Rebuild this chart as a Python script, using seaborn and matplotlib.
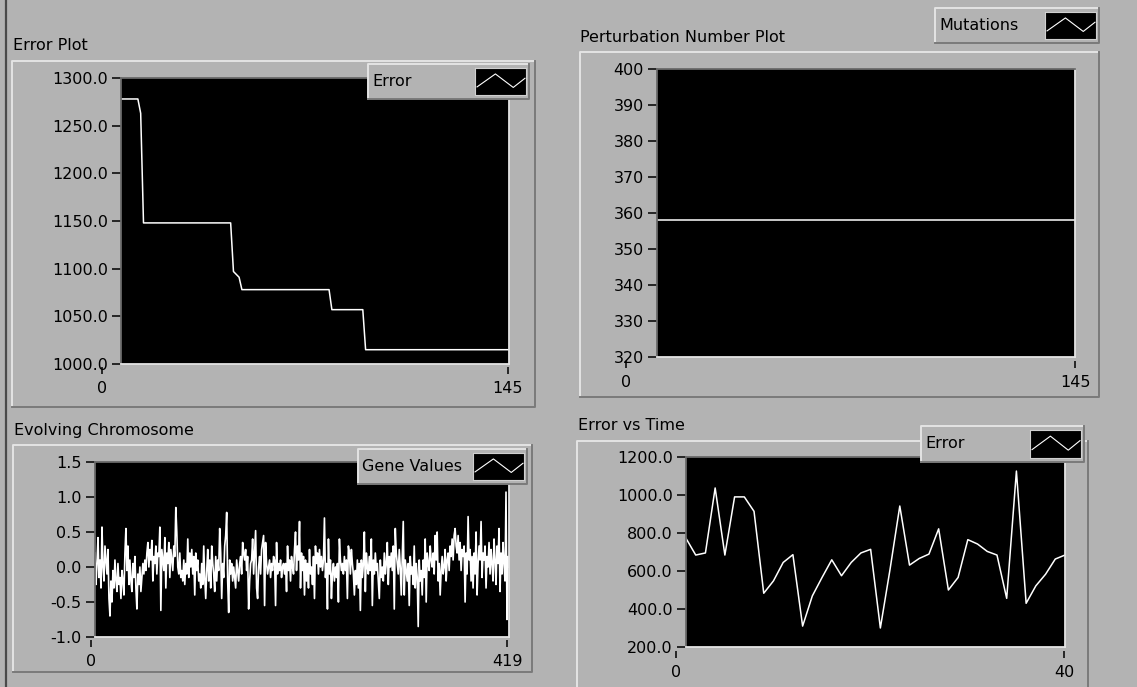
import matplotlib.pyplot as plt
import matplotlib.transforms as mtransforms
from matplotlib.patches import Rectangle
from matplotlib.lines import Line2D
import numpy as np
import pandas as pd
import seaborn as sns

# ---- data ----
# Error Plot (step-wise best error per generation, corner points)
error_gen = [7, 13, 14, 15, 46, 47, 48, 49, 50, 81, 82, 93, 94, 145]
error_best = [1278, 1278, 1263, 1148, 1148, 1097, 1094, 1091, 1078, 1078, 1057, 1057, 1015, 1015]

# Perturbation Number Plot
mutation_gen = [10, 145]
mutation_count = [358, 358]

# Error vs Time
time_step = list(range(1, 41))
error_time = [772, 684, 695, 1037, 684, 990, 990, 914, 483, 548,
              645, 686, 310, 469, 566, 659, 575, 645, 695, 714,
              300, 610, 942, 631, 666, 689, 822, 500, 566, 765,
              742, 703, 684, 456, 1126, 430, 522, 583, 663, 684]

# Evolving Chromosome (gene index 4..419)
gene_index = list(range(4, 420))
gene_values = [
    0.20, -0.25, 0.05, 0.42, -0.15, 0.10, -0.30, 0.57, 0.00, -0.20,
    0.30, 0.10, -0.10, 0.25, -0.45, -0.70, -0.20, -0.50, -0.05, -0.30,
    0.10, -0.20, -0.35, 0.05, -0.25, -0.15, -0.45, -0.05, -0.20, -0.40,
    0.20, 0.55, -0.05, 0.30, -0.25, 0.10, -0.20, -0.35, 0.05, -0.15,
    0.15, -0.30, -0.60, -0.10, -0.25, 0.00, -0.35, -0.15, 0.05, -0.10,
    0.10, -0.05, 0.20, 0.35, 0.00, 0.25, 0.10, 0.38, -0.20, 0.15,
    0.05, 0.30, -0.10, 0.20, 0.15, 0.57, -0.62, 0.25, 0.10, -0.05,
    0.42, -0.30, 0.20, 0.05, 0.35, -0.15, 0.25, 0.10, -0.05, 0.30,
    0.15, 0.85, 0.50, 0.00, -0.10, 0.20, -0.15, -0.05, -0.20, 0.10,
    -0.25, 0.05, -0.10, 0.40, -0.15, 0.20, 0.00, 0.25, -0.10, 0.15,
    -0.40, 0.20, -0.05, 0.10, -0.20, -0.10, -0.30, 0.05, -0.25, 0.30,
    -0.15, -0.45, -0.05, 0.25, -0.20, 0.10, -0.30, 0.30, 0.05, -0.10,
    -0.35, 0.15, -0.20, 0.10, -0.05, 0.55, 0.20, -0.45, 0.05, -0.15,
    0.30, 0.45, 0.78, -0.20, -0.65, 0.10, -0.10, 0.05, -0.20, 0.00,
    -0.15, -0.30, 0.10, -0.05, -0.20, 0.05, 0.15, -0.10, 0.35, 0.20,
    0.10, 0.25, -0.05, 0.15, -0.60, -0.20, 0.05, 0.10, 0.40, -0.10,
    0.20, 0.52, -0.30, -0.45, 0.00, 0.15, -0.10, 0.25, 0.35, 0.45,
    -0.55, 0.35, 0.05, -0.10, 0.00, 0.10, -0.15, 0.05, -0.05, 0.15,
    0.10, -0.55, 0.35, -0.10, 0.05, -0.05, 0.10, -0.15, 0.00, 0.05,
    -0.10, 0.05, -0.35, 0.30, -0.05, 0.10, -0.20, 0.15, 0.00, -0.10,
    0.25, 0.50, -0.05, 0.30, 0.10, 0.65, -0.30, 0.20, -0.05, 0.15,
    -0.40, 0.10, -0.20, 0.05, -0.30, 0.25, -0.10, 0.00, -0.25, 0.15,
    -0.45, 0.30, 0.05, 0.20, -0.10, 0.25, 0.00, 0.15, -0.05, 0.10,
    0.70, -0.15, 0.05, -0.60, 0.40, -0.10, 0.10, -0.45, -0.10, 0.05,
    -0.20, 0.00, -0.15, 0.05, -0.50, 0.40, 0.10, -0.05, 0.05, -0.10,
    0.15, -0.05, 0.10, -0.45, 0.30, 0.20, -0.10, 0.25, 0.05, -0.10,
    -0.40, -0.05, -0.25, 0.10, -0.30, 0.05, -0.62, 0.10, -0.15, 0.05,
    0.50, -0.35, 0.20, 0.00, -0.10, 0.15, -0.05, 0.40, -0.55, 0.10,
    -0.10, 0.20, -0.05, 0.05, -0.20, -0.45, 0.10, -0.15, 0.00, -0.20,
    0.20, -0.10, 0.05, 0.35, -0.25, 0.15, 0.00, 0.20, -0.05, 0.30,
    -0.60, 0.55, 0.20, 0.05, -0.10, 0.25, 0.00, -0.40, 0.15, 0.65,
    -0.40, 0.10, -0.05, -0.20, 0.05, -0.55, 0.15, -0.10, 0.00, -0.25,
    0.30, -0.30, 0.05, -0.15, -0.85, 0.10, -0.20, -0.05, -0.40, 0.10,
    -0.15, 0.40, -0.50, 0.20, 0.05, -0.05, 0.30, 0.10, 0.00, 0.20,
    -0.10, 0.45, 0.10, 0.50, -0.20, 0.05, -0.40, -0.05, 0.15, -0.10,
    0.00, 0.25, -0.20, 0.10, 0.20, -0.05, 0.30, 0.15, 0.40, 0.10,
    0.45, 0.55, 0.30, 0.20, 0.45, 0.10, 0.35, -0.05, 0.25, 0.15,
    0.30, -0.50, 0.20, -0.10, 0.72, 0.10, 0.25, -0.20, 0.15, -0.30,
    0.20, -0.10, 0.50, -0.40, 0.05, 0.30, 0.10, 0.65, -0.15, 0.20,
    0.10, 0.30, -0.30, 0.15, 0.00, 0.35, -0.10, 0.25, 0.05, -0.20,
    0.40, 0.10, -0.25, 0.30, 0.05, 0.55, -0.35, 0.20, -0.10, 0.35,
    0.05, -0.20, 1.07, -0.75, 0.15, 0.00,
]

# ---- look ----
W, H = 1137, 687
PANEL = '#b3b3b3'
LIGHT = '#e4e4e4'
DARK = '#7a7a7a'
FONT = 11.5
ICON_X = [0.04, 0.40, 0.75, 0.98]
ICON_Y = [0.30, 0.78, 0.28, 0.62]

plt.rcParams['font.family'] = ['DejaVu Sans']

fig = plt.figure(figsize=(W / 100, H / 100), dpi=100, facecolor=PANEL)
PX = mtransforms.Affine2D().scale(1 / W, -1 / H).translate(0, 1) + fig.transFigure


def bevel(x0, y0, x1, y1, hi=LIGHT, lo=DARK, face=None, lw=1.4, z=1):
    if face is not None:
        fig.add_artist(Rectangle((x0, y0), x1 - x0, y1 - y0, transform=PX,
                                 facecolor=face, edgecolor='none', zorder=z))
    fig.add_artist(Line2D([x0, x0, x1], [y1, y0, y0], transform=PX, color=hi, lw=lw,
                          zorder=z + 0.1))
    fig.add_artist(Line2D([x0, x1, x1], [y1, y1, y0], transform=PX, color=lo, lw=lw,
                          zorder=z + 0.1))


def px_rect(x0, y0, x1, y1):
    return [x0 / W, 1 - y1 / H, (x1 - x0) / W, (y1 - y0) / H]


def panel(title, title_xy, frame, plot, scale, legend_box, label,
          xlim, ylim, yticks, yfmt, xmax_label):
    bevel(*frame)
    fig.text(title_xy[0] / W, 1 - title_xy[1] / H, title, ha='left', va='center',
             fontsize=FONT)

    ax = fig.add_axes(px_rect(*plot))
    ax.set_zorder(2)
    ax.set_facecolor('black')
    ax.set_xlim(*xlim)
    ax.set_ylim(*ylim)
    ax.set_xticks([])
    ax.set_yticks(yticks)
    ax.set_yticklabels([yfmt.format(v) for v in yticks])
    ax.tick_params(axis='y', direction='out', length=6.5, width=1.1, pad=3,
                   labelsize=FONT, color='black')
    ax.spines['top'].set_color('#6a6a6a')
    ax.spines['left'].set_color('#6a6a6a')
    ax.spines['bottom'].set_color(LIGHT)
    ax.spines['right'].set_color(LIGHT)
    for s in ax.spines.values():
        s.set_linewidth(1.3)

    # x scale of the graph (drawn slightly offset like the original panel)
    sx = fig.add_axes([scale[0] / W, 1 - scale[2] / H, (scale[1] - scale[0]) / W, 1e-4])
    sx.set_xlim(0, xmax_label)
    sx.set_xticks([0, xmax_label])
    sx.set_xticklabels(['0', str(xmax_label)])
    sx.tick_params(axis='x', direction='out', length=5, width=1.1, pad=5,
                   labelsize=FONT, color='black')
    sx.set_yticks([])
    sx.patch.set_visible(False)
    for s in sx.spines.values():
        s.set_visible(False)

    # plot legend widget, sitting above the plot area
    lx0, ly0, lx1, ly1 = legend_box
    bevel(lx0, ly0, lx1, ly1, face=PANEL, z=5)
    fig.text((lx0 + 4) / W, 1 - ((ly0 + ly1) / 2) / H, label, ha='left', va='center',
             fontsize=FONT, zorder=6)
    icon = fig.add_axes(px_rect(lx1 - 54, ly0 + 4, lx1 - 3, ly1 - 4))
    icon.set_zorder(7)
    icon.set_facecolor('black')
    icon.plot(ICON_X, ICON_Y, color='white', lw=0.8)
    icon.set_xlim(0, 1)
    icon.set_ylim(0, 1)
    icon.set_xticks([])
    icon.set_yticks([])
    for s in icon.spines.values():
        s.set_color('#d0d0d0')
    return ax


# window edge
fig.add_artist(Line2D([6, 6], [0, H], transform=PX, color='#4a4a4a', lw=1.6))

ax1 = panel('Error Plot', (13, 45), (12, 61, 535, 407), (121, 78, 509, 364),
            (102, 508, 367), (368, 64, 529, 99), 'Error',
            (7, 145), (1000, 1300), [1000, 1050, 1100, 1150, 1200, 1250, 1300],
            '{:.1f}', 145)
sns.lineplot(x=error_gen, y=error_best, ax=ax1, color='white', linewidth=1.1,
             estimator=None)

ax2 = panel('Perturbation Number Plot', (580, 37), (580, 52, 1099, 397),
            (657, 69, 1075, 357), (626, 1075, 361), (935, 8, 1099, 43), 'Mutations',
            (10, 145), (320, 400), list(range(320, 401, 10)), '{:d}', 145)
sns.lineplot(x=mutation_gen, y=mutation_count, ax=ax2, color='white', linewidth=1.1,
             estimator=None)

ax3 = panel('Evolving Chromosome', (14, 430), (13, 445, 532, 672),
            (95, 462, 509, 637), (91, 507, 640), (358, 449, 527, 484), 'Gene Values',
            (4, 419), (-1.0, 1.5), [-1.0, -0.5, 0.0, 0.5, 1.0, 1.5], '{:.1f}', 419)
sns.lineplot(x=gene_index, y=gene_values, ax=ax3, color='white', linewidth=1.2,
             estimator=None)

ax4 = panel('Error vs Time', (578, 425), (577, 441, 1088, 700),
            (686, 457, 1065, 647), (676, 1064, 651), (921, 426, 1084, 462), 'Error',
            (1, 40), (200, 1200), [200, 400, 600, 800, 1000, 1200], '{:.1f}', 40)
sns.lineplot(x=time_step, y=error_time, ax=ax4, color='white', linewidth=1.1,
             estimator=None)

for a in (ax1, ax2, ax3, ax4):
    a.set_xlabel('')
    a.set_ylabel('')
    a.set_xticks([])

fig.savefig('out.png', dpi=100, facecolor=PANEL)
